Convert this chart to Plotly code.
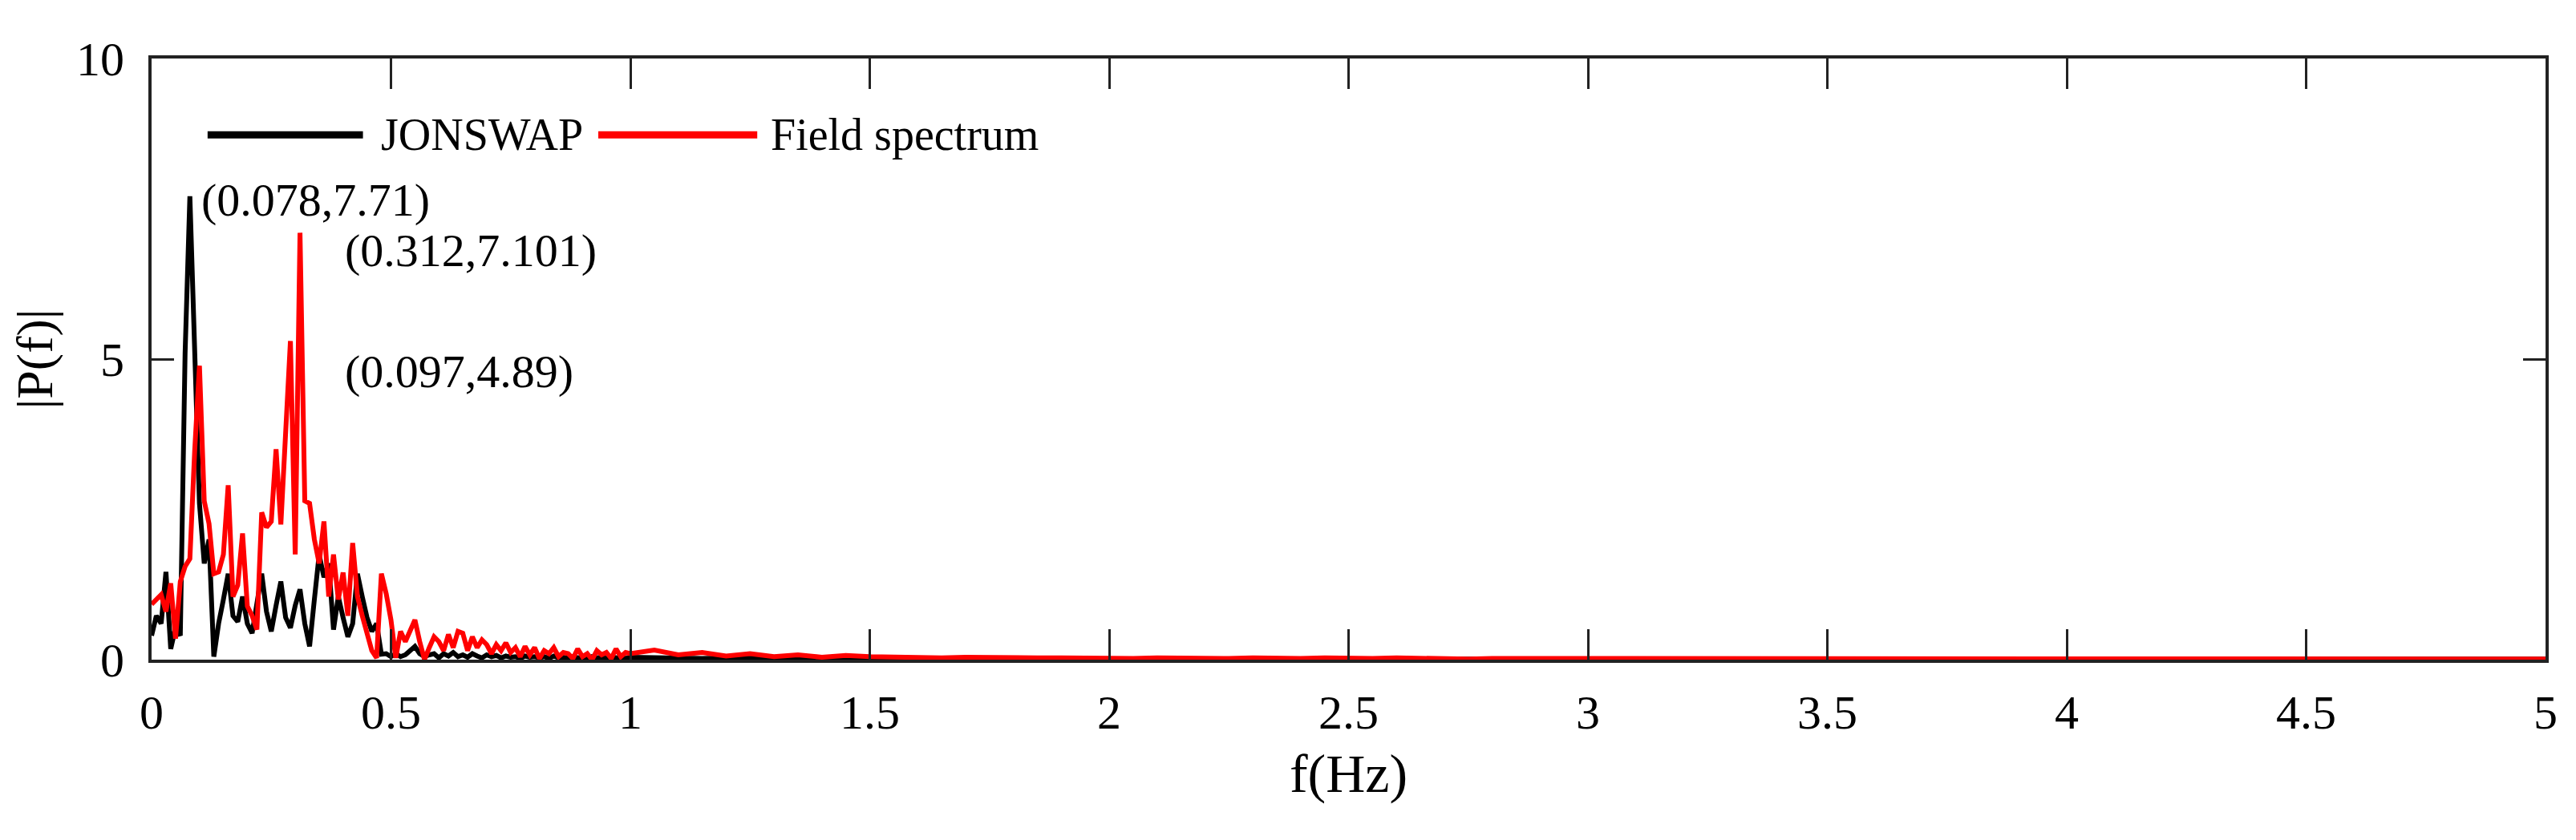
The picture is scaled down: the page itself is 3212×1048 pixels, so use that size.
import numpy as np
import plotly.graph_objects as go

# dense part 0.00-0.99 Hz, step 0.01
red_low = [0.92,1.0,1.08,0.8,1.27,0.35,1.3,1.55,1.68,3.47,4.89,2.64,2.26,1.43,1.46,1.75,2.9,1.05,1.24,2.1,
           0.89,0.73,0.5,2.45,2.2,2.3,3.5,2.25,3.7,5.3,1.75,7.101,2.64,2.6,2.0,1.6,2.3,1.05,1.75,1.0,
           1.45,0.73,1.94,1.05,0.73,0.4,0.15,0.03,1.43,1.1,0.66,0.03,0.47,0.3,0.5,0.66,0.3,0.0,0.2,0.38,
           0.3,0.15,0.42,0.2,0.47,0.44,0.15,0.38,0.2,0.33,0.25,0.1,0.25,0.15,0.28,0.12,0.2,0.05,0.22,0.08,
           0.2,0.02,0.15,0.1,0.2,0.05,0.12,0.1,0.02,0.18,0.05,0.1,0.0,0.15,0.08,0.12,0.02,0.18,0.05,0.12]
black_low = [0.4,0.73,0.6,1.46,0.18,0.53,0.4,5.1,7.71,5.4,2.6,1.6,2.0,0.05,0.6,1.0,1.43,0.73,0.63,1.05,
             0.6,0.44,0.9,1.43,0.8,0.47,0.9,1.3,0.7,0.53,0.9,1.17,0.6,0.22,1.0,1.75,1.37,1.6,0.5,1.05,
             0.7,0.38,0.6,1.43,1.05,0.7,0.47,0.6,0.09,0.1,0.05,0.1,0.05,0.08,0.15,0.22,0.1,0.05,0.08,0.1,
             0.03,0.1,0.06,0.12,0.05,0.08,0.04,0.1,0.06,0.03,0.08,0.05,0.07,0.03,0.06,0.04,0.05,0.02,0.06,0.04,
             0.05,0.03,0.05,0.02,0.06,0.03,0.04,0.02,0.05,0.03,0.04,0.02,0.05,0.03,0.04,0.02,0.05,0.03,0.04,0.02]
# tail 1.00-5.00 Hz, step 0.05
red_tail = [0.10,0.16,0.08,0.12,0.06,0.10,0.05,0.08,0.04,0.07,0.05,
            0.04,0.05,0.03,0.04,0.03,0.04,0.03,0.03,0.02,0.03,
            0.02,0.03,0.02,0.03,0.02,0.03,0.02,0.02,0.03,0.02,0.02,0.03,0.02,0.02,0.01,0.02,0.02,0.01,0.02,0.02,
            0.01,0.02,0.01,0.02,0.01,0.02,0.01,0.01,0.02,0.01,0.01,0.02,0.01,0.01,0.02,0.01,0.01,0.01,0.02,0.01,
            0.01,0.01,0.02,0.01,0.01,0.01,0.01,0.02,0.01,0.01,0.01,0.01,0.01,0.02,0.01,0.01,0.01,0.01,0.01,0.01]
black_tail = [0.04,0.03,0.04,0.02,0.03,0.02,0.03,0.02,0.02,0.01,0.02,
              0.01,0.02,0.01,0.01,0.02,0.01,0.01,0.01,0.01,0.01,
              0.01,0.01,0.01,0.01,0.01,0.01,0.01,0.01,0.01,0.01,0.01,0.01,0.01,0.01,0.01,0.01,0.01,0.01,0.01,0.01,
              0.01,0.01,0.01,0.01,0.01,0.01,0.01,0.01,0.01,0.01,0.01,0.01,0.01,0.01,0.01,0.01,0.01,0.01,0.01,0.01,
              0.01,0.01,0.01,0.01,0.01,0.01,0.01,0.01,0.01,0.01,0.01,0.01,0.01,0.01,0.01,0.01,0.01,0.01,0.01,0.01]

f_low = np.round(np.arange(len(red_low)) * 0.01, 3)
f_tail = np.round(1.0 + np.arange(len(red_tail)) * 0.05, 3)
f_red = np.concatenate([f_low, f_tail])
f_black = np.concatenate([np.round(np.arange(len(black_low)) * 0.01, 3),
                          np.round(1.0 + np.arange(len(black_tail)) * 0.05, 3)])
red = red_low + red_tail
black = black_low + black_tail

labels = [("(0.078,7.71)", 0.10, 7.65), ("(0.312,7.101)", 0.40, 6.81), ("(0.097,4.89)", 0.40, 4.8)]

FONT = "Liberation Serif, Times New Roman, serif"
fig = go.Figure()
fig.add_trace(go.Scatter(x=f_black, y=black, mode="lines", line=dict(color="black", width=6), name="JONSWAP", showlegend=False))
fig.add_trace(go.Scatter(x=f_red, y=red, mode="lines", line=dict(color="red", width=6), name="Field spectrum", showlegend=False))

for t, x, y in labels:
    fig.add_annotation(x=x, y=y, text=t, showarrow=False, xanchor="left", yanchor="middle",
                       font=dict(family=FONT, size=58, color="black"))

# manual legend
ly = 0.873
fig.add_shape(type="line", xref="paper", yref="paper", x0=0.0234, x1=0.0883, y0=ly, y1=ly, line=dict(color="black", width=9))
fig.add_annotation(xref="paper", yref="paper", x=0.095, y=ly, text="JONSWAP", showarrow=False, xanchor="left", yanchor="middle",
                   font=dict(family=FONT, size=56, color="black"))
fig.add_shape(type="line", xref="paper", yref="paper", x0=0.1866, x1=0.253, y0=ly, y1=ly, line=dict(color="red", width=9))
fig.add_annotation(xref="paper", yref="paper", x=0.258, y=ly, text="Field spectrum", showarrow=False, xanchor="left", yanchor="middle",
                   font=dict(family=FONT, size=56, color="black"))

fig.update_layout(width=3212, height=1048, margin=dict(l=176, r=46, t=65, b=233),
                  plot_bgcolor="white", paper_bgcolor="white", font=dict(family=FONT, size=60, color="black"))
fig.update_xaxes(range=[0, 5], dtick=0.5, tick0=0, showgrid=False, zeroline=False, showline=True, linewidth=4,
                 linecolor="#222", mirror="ticks", ticks="inside", ticklen=38, tickwidth=3, tickcolor="#222",
                 title=dict(text="f(Hz)", font=dict(size=68), standoff=20), tickfont=dict(size=60), ticklabelstandoff=10)
fig.update_yaxes(range=[0, 10], dtick=5, showgrid=False, zeroline=False, showline=True, linewidth=4,
                 linecolor="#222", mirror="ticks", ticks="inside", ticklen=28, tickwidth=3, tickcolor="#222",
                 title=dict(text="|P(f)|", font=dict(size=64), standoff=30), tickfont=dict(size=60), ticklabelstandoff=18)
fig.write_html("out.html")
